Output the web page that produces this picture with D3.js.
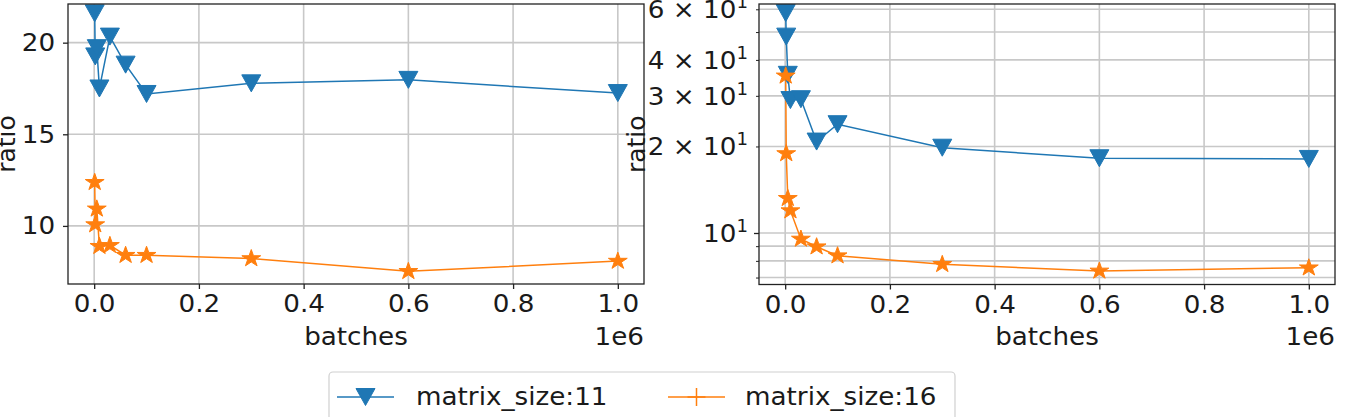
<!DOCTYPE html>
<html>
<head>
<meta charset="utf-8">
<script src="https://d3js.org/d3.v7.min.js"></script>
<style>
  html, body { margin: 0; padding: 0; background: #fff; }
  svg { display: block; }
  text { font-family: "DejaVu Sans", sans-serif; fill: #1a1a1a; }
</style>
</head>
<body>
<svg id="chart" width="1347" height="417"></svg>
<script>
// ---------- data ----------
const batches = [1000, 2000, 5000, 10000, 30000, 60000, 100000, 300000, 600000, 1000000];
const seriesNames = ["matrix_size:11", "matrix_size:16"];
const leftSize11 = [21.6, 19.25, 19.7, 17.5, 20.33, 18.8, 17.2, 17.78, 17.97, 17.25];
const leftSize16 = [12.38, 10.07, 10.93, 8.89, 8.94, 8.40, 8.40, 8.22, 7.52, 8.08];
const rightSize11 = [58.2, 48.2, 35.5, 29.0, 29.2, 20.8, 23.9, 19.8, 18.2, 18.1];
const rightSize16 = [35.2, 18.9, 13.2, 11.96, 9.53, 8.96, 8.34, 7.78, 7.38, 7.57];
const xTicks = [0, 200000, 400000, 600000, 800000, 1000000];
const leftYTicks = [10, 15, 20];
const rightYMajor = [10];
const rightYMinor = [7, 8, 9, 20, 30, 40, 50, 60];
const rightYLabelled = [20, 30, 40, 60];
const xLabel = "batches";
const yLabel = "ratio";
const offsetLabel = "1e6";

const colors = ["#1f77b4", "#ff7f0e"];
const svg = d3.select("#chart");
const FS = 24.5;
const SX = 1.07;

function starPath(r) {
  const inner = r * 0.381966;
  const pts = [];
  for (let i = 0; i < 10; i++) {
    const rad = (i % 2 === 0) ? r : inner;
    const a = -Math.PI / 2 + i * Math.PI / 5;
    pts.push([rad * Math.cos(a) * 1.1, rad * Math.sin(a)]);
  }
  return "M" + pts.map(p => p[0].toFixed(2) + "," + p[1].toFixed(2)).join("L") + "Z";
}
function triDownPath(w, h) {
  return `M${-w / 2},${-h / 2}L${w / 2},${-h / 2}L0,${h / 2}Z`;
}
function stxt(parent, x, y, str, anchor) {
  return parent.append("text")
    .attr("transform", `translate(${x},${y}) scale(${SX},1)`)
    .attr("text-anchor", anchor || "start")
    .style("font-size", FS + "px").text(str);
}

function drawPanel(opts) {
  const { x0, x1, y0, y1, yScale, s11, s16, yTicksMajor, yTicksMinor, yFormat, labelX } = opts;
  const x = d3.scaleLinear().domain([-50000, 1050000]).range([x0, x1]);
  const y = yScale;
  const g = svg.append("g");

  // grid
  const allY = yTicksMajor.concat(yTicksMinor || []);
  g.append("g").selectAll("line").data(xTicks).join("line")
    .attr("x1", d => x(d)).attr("x2", d => x(d)).attr("y1", y0).attr("y2", y1)
    .attr("stroke", "#c8c8c8").attr("stroke-width", 1.6);
  g.append("g").selectAll("line").data(allY).join("line")
    .attr("x1", x0).attr("x2", x1).attr("y1", d => y(d)).attr("y2", d => y(d))
    .attr("stroke", "#c8c8c8").attr("stroke-width", 1.6);

  // x axis
  const xAxis = d3.axisBottom(x).tickValues(xTicks).tickSize(5).tickPadding(6)
    .tickFormat(d => d3.format(".1f")(d / 1e6));
  const xa = g.append("g").attr("transform", `translate(0,${y1})`).call(xAxis);
  xa.select(".domain").remove();
  xa.selectAll("line").attr("stroke", "#222").attr("stroke-width", 1.3);
  xa.selectAll("text").style("font-size", FS + "px").style("font-family", "DejaVu Sans")
    .attr("fill", "#1a1a1a").attr("transform", `scale(${SX},1)`);

  // y axis
  const yAxis = d3.axisLeft(y).tickValues(yTicksMajor).tickSize(5).tickPadding(7)
    .tickFormat(yFormat ? "" : d => d);
  const ya = g.append("g").attr("transform", `translate(${x0},0)`).call(yAxis);
  ya.select(".domain").remove();
  ya.selectAll("line").attr("stroke", "#222").attr("stroke-width", 1.3);
  ya.selectAll("text").style("font-size", FS + "px").style("font-family", "DejaVu Sans")
    .attr("fill", "#1a1a1a").attr("transform", `scale(${SX},1)`);

  if (yTicksMinor) {
    const yMinorAxis = d3.axisLeft(y).tickValues(yTicksMinor).tickSize(3).tickFormat("");
    const ym = g.append("g").attr("transform", `translate(${x0},0)`).call(yMinorAxis);
    ym.select(".domain").remove();
    ym.selectAll("line").attr("stroke", "#222").attr("stroke-width", 1);
  }
  if (yFormat) yFormat(g, x0, y);

  // lines & markers
  const line = d3.line().x((d, i) => x(batches[i])).y(d => y(d));
  g.append("path").datum(s11).attr("d", line).attr("fill", "none")
    .attr("stroke", colors[0]).attr("stroke-width", 1.5);
  g.append("path").datum(s16).attr("d", line).attr("fill", "none")
    .attr("stroke", colors[1]).attr("stroke-width", 1.5);
  g.append("g").selectAll("path").data(s11).join("path")
    .attr("d", triDownPath(19, 17))
    .attr("transform", (d, i) => `translate(${x(batches[i])},${y(d)})`)
    .attr("fill", colors[0]).attr("stroke", colors[0]).attr("stroke-width", 1);
  g.append("g").selectAll("path").data(s16).join("path")
    .attr("d", starPath(9))
    .attr("transform", (d, i) => `translate(${x(batches[i])},${y(d)})`)
    .attr("fill", colors[1]).attr("stroke", colors[1]).attr("stroke-width", 1);

  // frame
  g.append("rect").attr("x", x0).attr("y", y0).attr("width", x1 - x0).attr("height", y1 - y0)
    .attr("fill", "none").attr("stroke", "#222").attr("stroke-width", 1.3);

  // labels
  stxt(g, (x0 + x1) / 2, 345, xLabel, "middle");
  stxt(g, x1, 345, offsetLabel, "end");
  g.append("text").attr("transform", `translate(${labelX},${(y0 + y1) / 2}) rotate(-90)`)
    .attr("text-anchor", "middle").style("font-size", "25px").text(yLabel);
}

// left panel
drawPanel({
  x0: 68, x1: 644, y0: 4, y1: 284,
  yScale: d3.scaleLinear().domain([6.83, 22.11]).range([284, 4]),
  s11: leftSize11, s16: leftSize16,
  yTicksMajor: leftYTicks, yTicksMinor: null, yFormat: null, labelX: 15
});

// right panel (log)
drawPanel({
  x0: 759, x1: 1335, y0: 4, y1: 284.5,
  yScale: d3.scaleLog().domain([6.62, 62.6]).range([284.5, 4]),
  s11: rightSize11, s16: rightSize16,
  yTicksMajor: rightYMajor, yTicksMinor: rightYMinor,
  labelX: 645,
  yFormat: (g, x0, y) => {
    const labs = rightYMajor.concat(rightYLabelled);
    const t = g.append("g").selectAll("text").data(labs).join("text")
      .attr("transform", d => `translate(748,${y(d) + 9}) scale(${SX},1)`)
      .attr("text-anchor", "end")
      .style("font-size", FS + "px");
    t.append("tspan").text(d => d === 10 ? "10" : (d / 10) + " \u00d7 10");
    t.append("tspan").attr("dy", -10).style("font-size", "17px").text("1");
  }
});

// legend
const lg = svg.append("g");
lg.append("rect").attr("x", 329).attr("y", 372).attr("width", 626).attr("height", 70)
  .attr("rx", 4).attr("fill", "#fff").attr("stroke", "#d0d0d0").attr("stroke-width", 1.2);
const legendItems = [
  { name: seriesNames[0], color: colors[0], lx: 337, tx: 416, marker: "tri" },
  { name: seriesNames[1], color: colors[1], lx: 668, tx: 745, marker: "plus" }
];
legendItems.forEach(it => {
  const ly = 397;
  lg.append("line").attr("x1", it.lx).attr("x2", it.lx + 57).attr("y1", ly).attr("y2", ly)
    .attr("stroke", it.color).attr("stroke-width", 1.5);
  const cx = it.lx + 28.5;
  if (it.marker === "tri") {
    lg.append("path").attr("d", triDownPath(19, 17)).attr("transform", `translate(${cx},${ly})`)
      .attr("fill", it.color).attr("stroke", it.color);
  } else {
    lg.append("path").attr("d", "M-9,0L9,0M0,-9L0,9").attr("transform", `translate(${cx},${ly})`)
      .attr("stroke", it.color).attr("stroke-width", 1.5);
  }
  stxt(lg, it.tx, ly + 8, it.name, "start");
});
</script>
</body>
</html>
